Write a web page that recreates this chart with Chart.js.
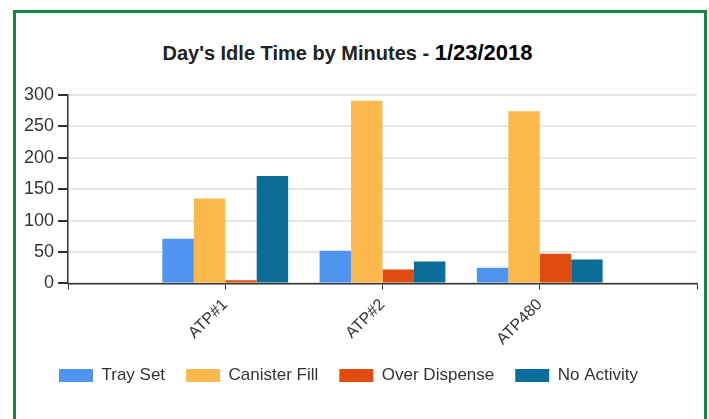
<!DOCTYPE html>
<html lang="en">
<head>
    <meta charset="UTF-8">
    <title>Day's Idle Time by Minutes</title>
    <style>
        html, body {
            margin: 0;
            padding: 0;
            overflow: hidden;
            background-color: #fff;
            font-family: "Liberation Sans", Arial, sans-serif;
        }

        .frame {
            position: absolute;
            left: 13px;
            top: 10px;
            width: 688px;
            height: 440px;
            border: 3px solid #0f8a45;
        }

        .title {
            position: absolute;
            left: 0;
            top: 40px;
            width: 695px;
            text-align: center;
            font-weight: bold;
            font-size: 20px;
            color: #222;
            white-space: nowrap;
        }

        .title .date {
            font-size: 22px;
            color: #000;
        }

        .chart-box {
            position: absolute;
            left: 0;
            top: 0;
            width: 709px;
            height: 419px;
        }
    </style>
</head>
<body>
    <div class="frame"></div>
    <div class="title">Day's Idle Time by Minutes - <span class="date">1/23/2018</span></div>
    <div class="chart-box">
        <canvas id="idleChart"></canvas>
    </div>

    <script src="https://cdn.jsdelivr.net/npm/chart.js"></script>
    <script>
        // Data
        const machines = ['ATP#1', 'ATP#2', 'ATP480'];
        const traySet = [71, 52, 25];
        const canisterFill = [135, 291, 274];
        const overDispense = [5, 22, 47];
        const noActivity = [171, 35, 38];
        const yTicks = [0, 50, 100, 150, 200, 250, 300];

        // empty slot on each side so the groups sit on the tick marks
        const labels = [''].concat(machines, ['']);
        function pad(values) {
            return [null].concat(values, [null]);
        }

        const fontFamily = '"Liberation Sans", Arial, sans-serif';

        const ctx = document.getElementById('idleChart').getContext('2d');
        const idleChart = new Chart(ctx, {
            type: 'bar',
            data: {
                labels: labels,
                datasets: [
                    { label: 'Tray Set', data: pad(traySet), backgroundColor: '#4f95ef' },
                    { label: 'Canister Fill', data: pad(canisterFill), backgroundColor: '#fbb84d' },
                    { label: 'Over Dispense', data: pad(overDispense), backgroundColor: '#e04b0f' },
                    { label: 'No Activity', data: pad(noActivity), backgroundColor: '#0b6e99' }
                ]
            },
            options: {
                responsive: true,
                maintainAspectRatio: false,
                animation: false,
                barPercentage: 1,
                categoryPercentage: 0.8,
                layout: {
                    padding: { top: 95, left: 0, right: 12, bottom: 25 }
                },
                plugins: {
                    title: { display: false },
                    tooltip: { enabled: false },
                    legend: {
                        position: 'bottom',
                        labels: {
                            boxWidth: 34,
                            boxHeight: 13,
                            padding: 21,
                            color: '#333',
                            font: { family: fontFamily, size: 17 }
                        }
                    }
                },
                scales: {
                    x: {
                        offset: false,
                        afterFit: function(axis) {
                            axis.height = axis.height - 9;
                            axis.paddingRight = 0; // last slot has an empty label
                        },
                        grid: {
                            offset: false,
                            drawOnChartArea: false,
                            drawTicks: true,
                            tickLength: 6,
                            tickColor: '#333',
                            color: '#333'
                        },
                        border: { color: '#333', width: 1.5 },
                        ticks: {
                            autoSkip: false,
                            minRotation: 45,
                            maxRotation: 45,
                            padding: 6,
                            color: '#333',
                            font: { family: fontFamily, size: 16 }
                        }
                    },
                    y: {
                        min: 0,
                        max: 300,
                        afterBuildTicks: function(axis) {
                            axis.ticks = yTicks.map(function(v) { return { value: v }; });
                        },
                        afterFit: function(axis) {
                            axis.width = 68;
                        },
                        grid: {
                            color: '#e6e6e6',
                            lineWidth: 2,
                            tickColor: '#333',
                            tickLength: 10
                        },
                        border: { color: '#333', width: 1.5 },
                        ticks: {
                            padding: 4,
                            color: '#333',
                            font: { family: fontFamily, size: 18 }
                        }
                    }
                }
            }
        });
    </script>
</body>
</html>
